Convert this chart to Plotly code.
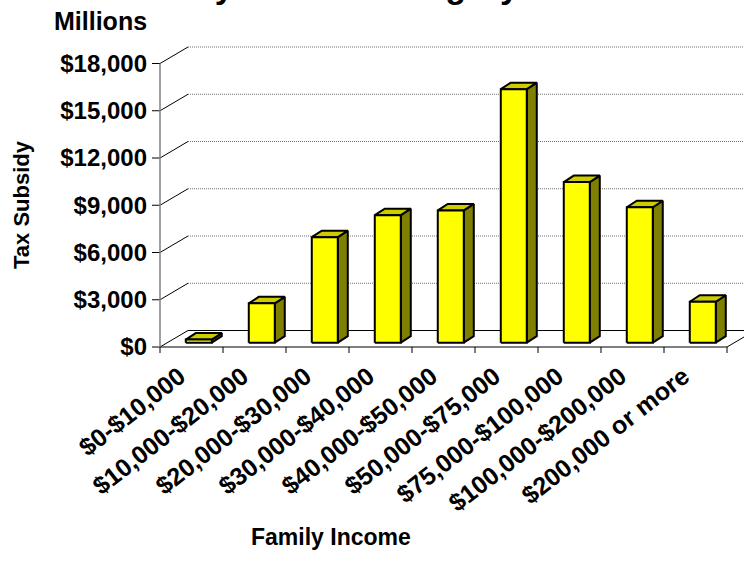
import plotly.graph_objects as go

# ---------------- data ----------------
categories = ["$0-$10,000", "$10,000-$20,000", "$20,000-$30,000", "$30,000-$40,000",
              "$40,000-$50,000", "$50,000-$75,000", "$75,000-$100,000",
              "$100,000-$200,000", "$200,000 or more"]
subsidy = [200, 2500, 6700, 8100, 8400, 16100, 10200, 8600, 2600]   # $ millions
y_ticks = [0, 3000, 6000, 9000, 12000, 15000, 18000]
y_tick_labels = ["$0", "$3,000", "$6,000", "$9,000", "$12,000", "$15,000", "$18,000"]

title_text = "Tax Subsidy<br>by Income Category"
units_text = "Millions"
y_title = "Tax Subsidy"
x_title = "Family Income"

# ---------------- geometry (pixel -> data scale) ----------------
W, H = 744, 578
L, R, T, B = 150, 0, 40, 222
AXIS_X = 160          # pixel x of front y-axis
ZERO_Y = 347          # pixel y of $0 on front plane
PX_CAT = 63.0         # pixels per category
PX_VAL = 283.5 / 18000  # pixels per $ million

plot_w = W - L - R
plot_h = H - T - B
x_range = [-(AXIS_X - L) / PX_CAT, (W - R - AXIS_X) / PX_CAT]
y_range = [-(H - B - ZERO_Y) / PX_VAL, (ZERO_Y - T) / PX_VAL]

DX = 28 / PX_CAT          # chart depth, x
DY = 16.5 / PX_VAL        # chart depth, y
FRAC = 0.26               # depth position of bar front face
BW = 26 / PX_CAT          # bar width
BDX = 10 / PX_CAT         # bar depth x
BDY = 6.5 / PX_VAL        # bar depth y
TICK_IN = 8 / PX_CAT
TICK_DN = 6 / PX_VAL
LABEL_SHIFT = 12 / PX_CAT

n = len(categories)
FONT = "Liberation Sans, Arial, sans-serif"

fig = go.Figure()


def add_lines(xs, ys, color, width, dash="solid"):
    fig.add_trace(go.Scatter(x=xs, y=ys, mode="lines",
                             line=dict(color=color, width=width, dash=dash),
                             hoverinfo="skip", showlegend=False))


# back-wall gridlines (fine dotted)
gx, gy = [], []
for v in y_ticks[1:]:
    gx += [DX, n + DX, None]
    gy += [v + DY, v + DY, None]
add_lines(gx, gy, "#707070", 1, "1px,1px")

# side-wall diagonals from front ticks to back wall
dx_, dy_ = [], []
for v in y_ticks[1:]:
    dx_ += [0, DX, None]
    dy_ += [v, v + DY, None]
add_lines(dx_, dy_, "#000000", 1)

# floor outline
add_lines([0, n, n + DX, DX, 0], [0, 0, DY, DY, 0], "#000000", 1)

# category tick marks
tx, ty = [], []
for i in range(n + 1):
    tx += [i, i, None]
    ty += [0, -TICK_DN, None]
add_lines(tx, ty, "#000000", 1)

# y-axis tick marks and front axis line
yx, yy = [], []
for v in y_ticks:
    yx += [-TICK_IN, 0, None]
    yy += [v, v, None]
add_lines(yx, yy, "#000000", 1)
add_lines([0, 0], [0, y_ticks[-1]], "#808080", 1.5)

# bars as 3-D prisms
fx, fy, sx, sy, qx, qy = [], [], [], [], [], []
for i, v in enumerate(subsidy):
    xl = i + 0.5 - BW / 2 + FRAC * DX
    xr = xl + BW
    b0 = FRAC * DY
    top = b0 + v
    fx += [xl, xr, xr, xl, xl, None]
    fy += [b0, b0, top, top, b0, None]
    sx += [xr, xr + BDX, xr + BDX, xr, xr, None]
    sy += [b0, b0 + BDY, top + BDY, top, b0, None]
    qx += [xl, xr, xr + BDX, xl + BDX, xl, None]
    qy += [top, top, top + BDY, top + BDY, top, None]

for xs, ys, col in [(sx, sy, "#808000"), (qx, qy, "#CCCC00"), (fx, fy, "#FFFF00")]:
    fig.add_trace(go.Scatter(x=xs, y=ys, mode="lines", fill="toself", fillcolor=col,
                             line=dict(color="#000000", width=2),
                             hoverinfo="skip", showlegend=False))


def px_to_paper_x(px):
    return (px - L) / plot_w


def px_to_paper_y(py):
    return (H - B - py) / plot_h


annotations = [
    dict(text="<b>" + title_text + "</b>", xref="paper", yref="paper",
         x=px_to_paper_x(356), y=px_to_paper_y(7), xanchor="center", yanchor="bottom",
         showarrow=False, font=dict(family=FONT, size=34, color="#000000")),
    dict(text="<b>" + units_text + "</b>", xref="paper", yref="paper",
         x=px_to_paper_x(100), y=px_to_paper_y(21), xanchor="center", yanchor="middle",
         showarrow=False, font=dict(family=FONT, size=25, color="#000000")),
    dict(text="<b>" + y_title + "</b>", xref="paper", yref="paper",
         x=px_to_paper_x(21), y=px_to_paper_y(205), xanchor="center", yanchor="middle",
         textangle=-90, showarrow=False, font=dict(family=FONT, size=22, color="#000000")),
    dict(text="<b>" + x_title + "</b>", xref="paper", yref="paper",
         x=px_to_paper_x(331), y=px_to_paper_y(537), xanchor="center", yanchor="middle",
         showarrow=False, font=dict(family=FONT, size=23, color="#000000")),
]

fig.update_layout(
    width=W, height=H,
    margin=dict(l=L, r=R, t=T, b=B, pad=0),
    paper_bgcolor="white", plot_bgcolor="white",
    annotations=annotations,
    showlegend=False,
    xaxis=dict(range=x_range, showgrid=False, zeroline=False, showline=False,
               tickmode="array", tickvals=[i + 0.5 - LABEL_SHIFT for i in range(n)],
               ticktext=categories, tickangle=-38, ticks="", automargin=False,
               tickfont=dict(family=FONT, size=25, color="#000000", weight="bold")),
    yaxis=dict(range=y_range, showgrid=False, zeroline=False, showline=False,
               tickmode="array", tickvals=y_ticks, ticktext=y_tick_labels,
               ticks="", automargin=False, ticklabelstandoff=2,
               tickfont=dict(family=FONT, size=24, color="#000000", weight="bold")),
)

fig.write_html("out.html", config={"displayModeBar": False},
               post_script="document.body.style.margin='0';")
